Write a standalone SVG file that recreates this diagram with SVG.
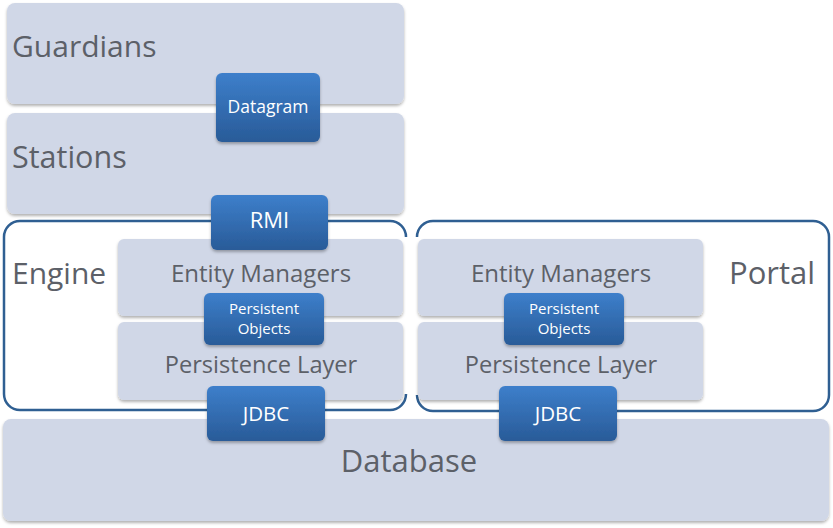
<svg xmlns="http://www.w3.org/2000/svg" width="833" height="528" viewBox="0 0 833 528">
<defs>
<linearGradient id="bg" x1="0" y1="0" x2="0" y2="1">
<stop offset="0" stop-color="#3d7fcb"/>
<stop offset="1" stop-color="#295b98"/>
</linearGradient>
<filter id="sh" x="-5%" y="-10%" width="110%" height="130%">
<feDropShadow dx="0" dy="2" stdDeviation="1.5" flood-color="#000" flood-opacity="0.3"/>
</filter>
<style>
.layer{fill:#d0d7e7;filter:url(#sh)}
.outline{fill:none;stroke:#2f5f92;stroke-width:2.5}
.blue{fill:url(#bg);filter:url(#sh)}
.big{font-family:"Open Sans","Liberation Sans",sans-serif;fill:#5c6068}
.wt{font-family:"Open Sans","Liberation Sans",sans-serif;fill:#fff;text-anchor:middle}
.mid{text-anchor:middle}
</style>
</defs>
<rect width="833" height="528" fill="#fff"/>
<g id="engine"><path class="outline" d="M406,237 A16,16 0 0 0 390,221 H20 A16,16 0 0 0 4,237 V394 A16,16 0 0 0 20,410 H390 A16,16 0 0 0 406,394"/><text class="big" x="12" y="284" font-size="30">Engine</text></g>
<g id="portal"><path class="outline" d="M417,237 A16,16 0 0 1 433,221 H813 A16,16 0 0 1 829,237 V395 A16,16 0 0 1 813,411 H433 A16,16 0 0 1 417,395"/><text class="big" x="729" y="284" font-size="31">Portal</text></g>
<g id="guardians"><rect class="layer" x="7" y="3" width="397" height="101" rx="8"/><text class="big" x="12" y="57" font-size="30">Guardians</text></g>
<g id="stations"><rect class="layer" x="7" y="113" width="397" height="101" rx="8"/><text class="big" x="12" y="168" font-size="30.5">Stations</text></g>
<g id="engine-em"><rect class="layer" x="118" y="239" width="285" height="77" rx="6"/><text class="big mid" x="261" y="282" font-size="24">Entity Managers</text></g>
<g id="engine-pl"><rect class="layer" x="118" y="322" width="285" height="78" rx="6"/><text class="big mid" x="261" y="373" font-size="23.6">Persistence Layer</text></g>
<g id="portal-em"><rect class="layer" x="418" y="239" width="285" height="77" rx="6"/><text class="big mid" x="561" y="282" font-size="24">Entity Managers</text></g>
<g id="portal-pl"><rect class="layer" x="418" y="322" width="285" height="78" rx="6"/><text class="big mid" x="561" y="373" font-size="23.6">Persistence Layer</text></g>
<g id="database"><rect class="layer" x="3" y="419" width="826" height="102" rx="8"/><text class="big mid" x="409" y="472" font-size="31">Database</text></g>
<g id="connectors">
<g id="datagram"><rect class="blue" x="216" y="73" width="104" height="69" rx="6"/><text class="wt" x="268" y="113" font-size="17.5">Datagram</text></g>
<g id="rmi"><rect class="blue" x="211" y="195" width="117" height="55" rx="6"/><text class="wt" x="269.5" y="228" font-size="22">RMI</text></g>
<g id="po-engine"><rect class="blue" x="204" y="293" width="120" height="52" rx="6"/><text class="wt" x="264" y="314" font-size="15">Persistent</text><text class="wt" x="264" y="334" font-size="15">Objects</text></g>
<g id="po-portal"><rect class="blue" x="504" y="293" width="120" height="52" rx="6"/><text class="wt" x="564" y="314" font-size="15">Persistent</text><text class="wt" x="564" y="334" font-size="15">Objects</text></g>
<g id="jdbc-engine"><rect class="blue" x="207" y="386" width="118" height="55" rx="6"/><text class="wt" x="266" y="421" font-size="20.5">JDBC</text></g>
<g id="jdbc-portal"><rect class="blue" x="499" y="386" width="118" height="55" rx="6"/><text class="wt" x="558" y="421" font-size="20.5">JDBC</text></g>
</g>
</svg>
